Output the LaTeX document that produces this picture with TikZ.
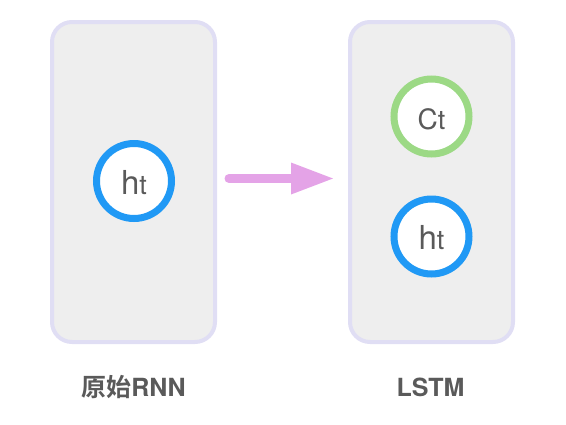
\documentclass[tikz,border=0pt]{standalone}
\usepackage{fontspec}
\setmainfont{TeX Gyre Heros}
\newfontfamily\cjk{Noto Sans CJK SC}[BoldFont=* Bold]
\definecolor{boxfill}{HTML}{EEEEEE}
\definecolor{boxline}{HTML}{E0DEF4}
\definecolor{hblue}{HTML}{2099F5}
\definecolor{cgreen}{HTML}{9CD985}
\definecolor{txt}{HTML}{5A5A5A}
\definecolor{arrowc}{HTML}{E4A3E7}
\begin{document}
\begin{tikzpicture}[x=1pt,y=-1pt,
  panel/.style={draw=boxline,line width=4pt,fill=boxfill,rounded corners=20pt,minimum width=163pt,minimum height=320pt,inner sep=0pt},
  cell/.style={circle,line width=7pt,fill=white,minimum size=75pt,inner sep=0pt,text=txt},
  lab/.style={text=txt,font=\bfseries\fontsize{25}{25}\selectfont,inner sep=0pt}]
\useasboundingbox (0,0) rectangle (566,424);
\node[panel] (rnn) at (133.5,182) {};
\node[panel] (lstm) at (431.5,182) {};
\node[cell,draw=hblue] (h1) at (134,181) {\raisebox{-1.5pt}[\height][\depth]{{\fontsize{33}{33}\selectfont h}{\fontsize{27}{27}\selectfont t}}};
\node[cell,draw=cgreen] (c2) at (431.5,116.5) {\raisebox{-3pt}[\height][\depth]{{\fontsize{28}{28}\selectfont C}{\fontsize{27}{27}\selectfont t}}};
\node[cell,draw=hblue] (h2) at (431.5,236.5) {\raisebox{-1.5pt}[\height][\depth]{{\fontsize{33}{33}\selectfont h}{\fontsize{27}{27}\selectfont t}}};
\node[lab] (l1) at (133.5,387) {{\cjk\bfseries 原始}RNN};
\node[lab] (l2) at (430.5,387) {LSTM};
\coordinate (a0) at (229,178.5);
\coordinate (a1) at (291,178.5);
\coordinate (a2) at (333,178.5);
\draw[arrowc,line width=9pt,line cap=round] (a0) -- (a1);
\fill[arrowc] ([yshift=-16pt]a1) -- (a2) -- ([yshift=16pt]a1) -- cycle;
\end{tikzpicture}
\end{document}
